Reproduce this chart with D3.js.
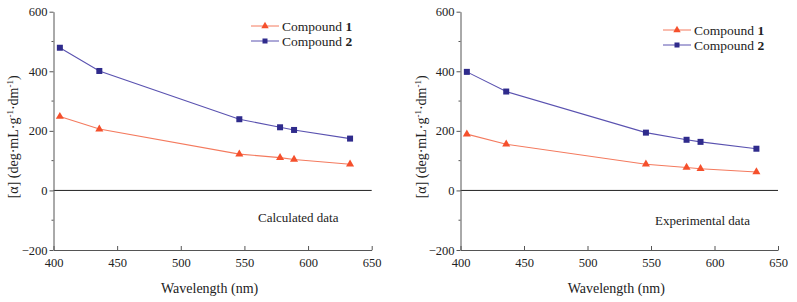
<!DOCTYPE html>
<html>
<head>
<meta charset="utf-8">
<script src="https://cdn.jsdelivr.net/npm/d3@7"></script>
<style>
  body { margin: 0; background: #fff; }
  text { font-family: "Liberation Serif", "Times New Roman", serif; fill: #222; }
</style>
</head>
<body>
<div id="chart"></div>
<script>
const wavelengths = [405, 436, 546, 578, 589, 633];
const calcCompound1 = [248, 206, 122, 110, 104, 88];
const calcCompound2 = [479, 401, 239, 212, 203, 174];
const expCompound1 = [189, 155, 88, 77, 73, 62];
const expCompound2 = [398, 332, 194, 170, 163, 140];
const xTicks = [400, 450, 500, 550, 600, 650];
const yTicks = [-200, 0, 200, 400, 600];
const yMinorTicks = [-100, 100, 300, 500];
const seriesNames = ["Compound", "Compound"];
const seriesNums = ["1", "2"];

const W = 797, H = 302;
const red = "#f5502c", redLine = "#f47a5e";
const blue = "#2f2b8c", blueLine = "#5a52b0";

const svg = d3.select("#chart").append("svg")
    .attr("width", W).attr("height", H);

function drawPanel(opts) {
    const x = d3.scaleLinear().domain([400, 650]).range([opts.left, opts.right]);
    const y = d3.scaleLinear().domain([-200, 600]).range([250, 11.7]);
    const g = svg.append("g");

    // zero line
    g.append("line")
        .attr("x1", x(400)).attr("x2", x(650))
        .attr("y1", y(0)).attr("y2", y(0))
        .attr("stroke", "#222").attr("stroke-width", 1);

    // x axis
    const xa = g.append("g")
        .attr("transform", `translate(0,${y(-200)})`)
        .call(d3.axisBottom(x).tickValues(xTicks).tickSizeInner(-4).tickSizeOuter(0).tickPadding(8));
    xa.select(".domain").attr("stroke", "#555");
    xa.selectAll(".tick line").attr("stroke", "#555");
    xa.selectAll("text").attr("font-size", 12.5).attr("font-family", "Liberation Serif").attr("fill", "#222");

    // y axis
    const ya = g.append("g")
        .attr("transform", `translate(${x(400)},0)`)
        .call(d3.axisLeft(y).tickValues(yTicks).tickSizeInner(4).tickSizeOuter(0).tickPadding(2));
    ya.select(".domain").attr("stroke", "#555");
    ya.selectAll(".tick line").attr("stroke", "#555");
    ya.selectAll("text").attr("font-size", 12.5).attr("font-family", "Liberation Serif").attr("fill", "#222");

    g.append("g").selectAll("line")
        .data(yMinorTicks).enter().append("line")
        .attr("x1", x(400) - 2).attr("x2", x(400))
        .attr("y1", d => y(d)).attr("y2", d => y(d))
        .attr("stroke", "#555");

    // axis titles
    g.append("text")
        .attr("x", (x(400) + x(650)) / 2 - 3).attr("y", 293)
        .attr("text-anchor", "middle").attr("font-size", 14)
        .text("Wavelength (nm)");

    const yl = g.append("text")
        .attr("transform", `translate(${opts.yLabelX},${y(200) + 6}) rotate(-90)`)
        .attr("text-anchor", "middle").attr("font-size", 14);
    yl.append("tspan").text("[α] (deg·mL·g");
    yl.append("tspan").attr("font-size", 9).attr("dy", -5).text("-1");
    yl.append("tspan").attr("dy", 5).text("·dm");
    yl.append("tspan").attr("font-size", 9).attr("dy", -5).text("-1");
    yl.append("tspan").attr("dy", 5).text(")");

    const line = d3.line().x((d, i) => x(wavelengths[i])).y(d => y(d));

    // compound 1
    g.append("path").datum(opts.s1)
        .attr("d", line).attr("fill", "none")
        .attr("stroke", redLine).attr("stroke-width", 1.1);
    g.append("g").selectAll("path")
        .data(opts.s1).enter().append("path")
        .attr("transform", (d, i) => `translate(${x(wavelengths[i])},${y(d)})`)
        .attr("d", d3.symbol(d3.symbolTriangle, 28))
        .attr("fill", red);

    // compound 2
    g.append("path").datum(opts.s2)
        .attr("d", line).attr("fill", "none")
        .attr("stroke", blueLine).attr("stroke-width", 1.1);
    g.append("g").selectAll("rect")
        .data(opts.s2).enter().append("rect")
        .attr("x", (d, i) => x(wavelengths[i]) - 3)
        .attr("y", d => y(d) - 3)
        .attr("width", 6).attr("height", 6)
        .attr("fill", blue);

    // legend
    const lg = g.append("g").attr("transform", `translate(${opts.legX},${opts.legY})`);
    [0, 1].forEach(k => {
        const row = lg.append("g").attr("transform", `translate(0,${k * 15})`);
        row.append("line").attr("x1", 0).attr("x2", 28).attr("y1", 0).attr("y2", 0)
            .attr("stroke", k === 0 ? redLine : blueLine);
        if (k === 0) {
            row.append("path").attr("transform", "translate(14,0)")
                .attr("d", d3.symbol(d3.symbolTriangle, 24)).attr("fill", red);
        } else {
            row.append("rect").attr("x", 11.5).attr("y", -2.5).attr("width", 5).attr("height", 5)
                .attr("fill", blue);
        }
        const t = row.append("text").attr("x", 31).attr("y", 4.5).attr("font-size", 13.5);
        t.append("tspan").text(seriesNames[k] + " ");
        t.append("tspan").attr("font-weight", "bold").text(seriesNums[k]);
    });

    g.append("text")
        .attr("x", opts.noteX).attr("y", opts.noteY)
        .attr("font-size", 13).text(opts.note);
}

drawPanel({
    left: 53.5, right: 371.7, yLabelX: 18,
    s1: calcCompound1, s2: calcCompound2,
    legX: 251, legY: 26, note: "Calculated data", noteX: 258, noteY: 222
});

drawPanel({
    left: 460.5, right: 778, yLabelX: 426,
    s1: expCompound1, s2: expCompound2,
    legX: 663, legY: 30, note: "Experimental data", noteX: 655, noteY: 225
});
</script>
</body>
</html>
